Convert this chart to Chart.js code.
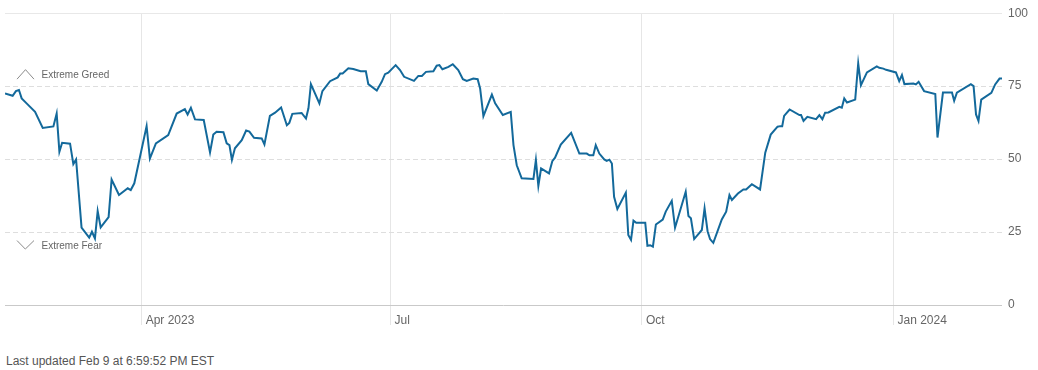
<!DOCTYPE html>
<html>
<head>
<meta charset="utf-8">
<script src="https://cdn.jsdelivr.net/npm/chart.js@4/dist/chart.umd.min.js"></script>
<style>
  html, body { margin: 0; padding: 0; background: #ffffff; }
  #wrap { position: relative; width: 1038px; height: 370px; overflow: hidden; }
  #box { position: absolute; left: 0; top: 0; width: 1038px; height: 340px; }
  #foot { position: absolute; left: 6px; top: 354px; font: 12px "Liberation Sans", Arial, sans-serif; color: #555; white-space: nowrap; }
</style>
</head>
<body>
<div id="wrap">
  <div id="box"><canvas id="c"></canvas></div>
  <div id="foot">Last updated Feb 9 at 6:59:52 PM EST</div>
</div>
<script>
// Days counted from Jan 1, 2023 (0 = Jan 1, 2023)
const days = [40.0,42.8,44.0,45.1,46.1,47.9,51.0,53.8,57.7,58.9,
  59.9,60.9,63.8,65.0,66.0,68.0,70.8,71.8,72.9,73.9,
  75.0,77.9,79.0,81.7,84.9,86.0,87.3,91.8,93.0,95.2,
  99.7,102.8,105.8,106.8,108.0,109.5,112.7,115.0,116.2,117.4,
  119.9,121.1,122.1,123.0,124.1,126.6,128.2,129.4,131.1,133.9,
  134.9,136.9,138.8,141.0,143.1,144.0,145.1,148.5,150.1,151.0,
  151.9,155.0,156.1,158.9,161.7,162.6,163.5,165.6,167.4,170.1,
  172.0,172.9,176.0,177.8,179.0,180.2,182.9,184.5,186.0,189.6,
  191.2,192.5,194.0,196.7,197.9,198.9,200.0,202.2,203.8,205.8,
  207.5,208.9,211.3,212.9,213.8,215.0,218.1,219.3,222.1,225.0,
  226.0,227.2,229.0,233.3,234.2,235.1,236.1,239.0,240.2,241.2,
  243.3,247.1,250.1,252.8,253.8,255.2,256.1,257.4,259.2,260.1,
  261.1,262.0,262.8,264.0,267.1,268.0,269.0,269.9,270.9,274.2,
  275.0,276.0,277.0,278.1,280.6,281.7,283.9,285.1,289.0,290.0,
  290.9,292.1,294.9,295.9,297.0,297.9,299.1,302.2,303.8,305.0,
  305.9,308.1,310.1,311.1,313.2,316.2,318.1,320.1,322.6,323.6,
  324.3,325.0,327.0,330.6,331.2,332.1,333.5,336.7,337.9,339.0,
  340.0,341.2,345.2,346.1,347.0,348.0,351.0,352.1,353.1,355.3,
  358.9,359.8,361.3,362.3,365.9,367.1,368.1,369.0,372.3,373.2,
  374.2,376.2,380.3,381.1,383.1,386.4,387.2,388.2,393.3,394.3,
  395.2,396.1,397.1,400.8,402.2,403.8,404.7];

const fearGreed = [72.5,71.7,73.3,73.7,70.8,69.1,66.2,60.7,61.2,65.6,
  52.5,55.6,55.3,48.3,49.9,26.5,23.1,25.1,22.8,32.2,
  26.6,30.1,43.0,37.7,40.0,39.4,41.7,61.3,50.2,55.4,
  58.2,65.6,67.1,65.3,67.6,63.6,63.4,52.3,58.4,59.4,
  59.2,55.4,54.8,49.7,53.7,56.5,59.8,59.4,57.3,57.1,
  55.0,64.8,65.9,67.7,61.6,62.4,65.5,65.8,63.9,67.4,
  75.7,69.1,73.3,76.7,78.0,79.3,79.3,81.1,80.9,80.1,
  80.1,75.7,73.5,76.5,79.1,79.6,82.2,80.5,78.2,76.8,
  78.5,78.5,79.9,80.1,82.0,82.2,80.8,81.6,82.5,80.5,
  77.4,76.8,77.6,77.4,74.2,64.7,72.1,69.1,65.1,66.2,
  54.8,47.9,43.4,43.2,49.7,40.8,46.8,45.1,49.3,50.5,
  55.0,59.0,51.9,51.9,51.3,51.3,54.8,51.9,49.9,49.4,
  49.8,48.5,37.1,32.9,38.5,24.0,22.3,28.9,28.2,28.2,
  20.3,20.5,20.0,27.6,29.3,32.0,35.7,26.5,38.8,30.5,
  29.7,22.6,25.7,33.1,25.3,22.6,21.3,29.3,32.0,37.7,
  36.0,38.2,39.6,39.6,41.4,39.6,52.2,58.4,61.1,61.3,
  61.3,64.8,67.0,65.1,65.1,63.1,64.5,63.7,65.1,63.7,
  65.9,66.0,67.9,67.6,70.8,69.4,70.4,82.8,75.3,79.7,
  81.8,81.3,81.0,80.6,79.7,76.7,78.8,75.7,75.9,75.6,
  76.5,73.3,72.3,57.4,72.8,72.8,70.0,72.8,75.7,75.0,
  65.3,63.1,70.4,72.7,75.6,77.6,77.6];

const tickDays = [90, 181, 273, 365];
const tickLabels = ['Apr 2023', 'Jul', 'Oct', 'Jan 2024'];
const yTicks = [0, 25, 50, 75, 100];
const zoneLabels = ['Extreme Greed', 'Extreme Fear'];

const FONT = '"Liberation Sans", Arial, sans-serif';

const zonePlugin = {
  id: 'zones',
  afterDraw(chart) {
    const ctx = chart.ctx;
    const y = chart.scales.y;
    const left = chart.chartArea.left;
    ctx.save();
    ctx.strokeStyle = '#8a8a8a';
    ctx.lineWidth = 1;
    // Extreme Greed chevron (up) just above the 75 line
    const gy = y.getPixelForValue(75) - 12;
    ctx.beginPath();
    ctx.moveTo(left + 12, gy + 5);
    ctx.lineTo(left + 20.5, gy - 4.5);
    ctx.lineTo(left + 29, gy + 5);
    ctx.stroke();
    // Extreme Fear chevron (down) just below the 25 line
    const fy = y.getPixelForValue(25) + 13;
    ctx.beginPath();
    ctx.moveTo(left + 12, fy - 4.5);
    ctx.lineTo(left + 20.3, fy + 4);
    ctx.lineTo(left + 29, fy - 4.5);
    ctx.stroke();
    ctx.fillStyle = '#666';
    ctx.font = '10px ' + FONT;
    ctx.textBaseline = 'middle';
    ctx.textAlign = 'left';
    ctx.fillText(zoneLabels[0], left + 36.5, gy + 1);
    ctx.fillText(zoneLabels[1], left + 36.5, fy + 1.5);
    ctx.restore();
  }
};

new Chart(document.getElementById('c'), {
  type: 'line',
  data: {
    datasets: [{
      label: 'Fear & Greed Index',
      data: days.map((d, i) => ({ x: d, y: fearGreed[i] })),
      borderColor: '#13699b',
      borderWidth: 2,
      pointRadius: 0,
      pointHoverRadius: 0,
      tension: 0,
      fill: false
    }]
  },
  options: {
    responsive: true,
    maintainAspectRatio: false,
    animation: false,
    events: [],
    layout: { padding: { left: 5, top: 13, right: 0, bottom: 0 } },
    plugins: { legend: { display: false }, tooltip: { enabled: false } },
    scales: {
      x: {
        type: 'linear',
        min: days[0],
        max: days[days.length - 1],
        afterBuildTicks(scale) { scale.ticks = tickDays.map(v => ({ value: v })); },
        afterFit(scale) { scale.height = 35; },
        grid: { color: '#e6e6e6', lineWidth: 1, drawTicks: true, tickLength: 20, drawOnChartArea: true },
        border: { display: false },
        ticks: {
          autoSkip: false,
          maxRotation: 0,
          align: 'start',
          labelOffset: 4,
          padding: -11.5,
          color: '#666',
          font: { family: FONT, size: 12 },
          callback: (v) => { const i = tickDays.indexOf(v); return i >= 0 ? tickLabels[i] : ''; }
        }
      },
      y: {
        position: 'right',
        min: 0,
        max: 100,
        afterBuildTicks(scale) { scale.ticks = yTicks.map(v => ({ value: v })); },
        afterFit(scale) { scale.width = 36; },
        grid: {
          drawTicks: false,
          lineWidth: 1,
          color: (c) => c.tick && c.tick.value === 0 ? '#c9c9c9' : (c.tick && c.tick.value === 100 ? '#e8e8e8' : '#dedede')
        },
        border: {
          display: false,
          dash: (c) => (c.tick && c.tick.value > 0 && c.tick.value < 100) ? [5, 3] : []
        },
        ticks: {
          padding: 6,
          color: '#666',
          font: { family: FONT, size: 12 }
        }
      }
    }
  },
  plugins: [zonePlugin]
});
</script>
</body>
</html>
